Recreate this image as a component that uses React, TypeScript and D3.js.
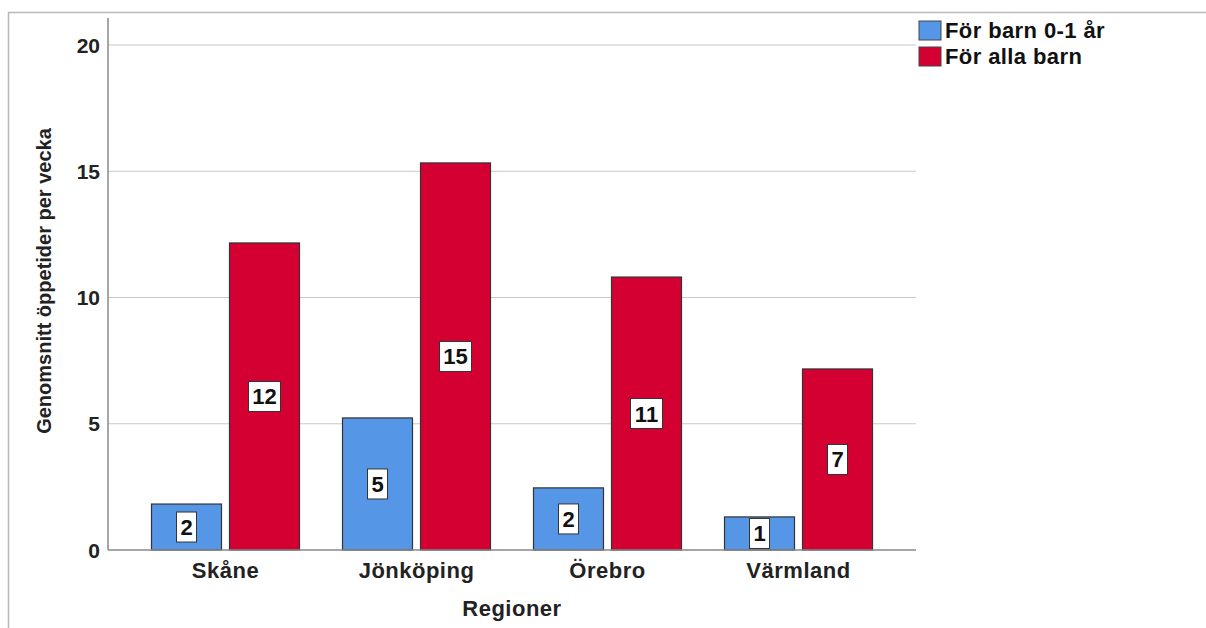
import React from 'react';
import * as d3 from 'd3';

const categories = ['Skåne', 'Jönköping', 'Örebro', 'Värmland'];
const seriesNames = ['För barn 0-1 år', 'För alla barn'];
const infantValues = [1.82, 5.23, 2.46, 1.31];
const allValues = [12.16, 15.33, 10.81, 7.17];
const yTicks = [0, 5, 10, 15, 20];

const colors = ['#5596e6', '#d50032'];
const font = '"Liberation Sans", Arial, sans-serif';

const App = () => {
  const width = 1206;
  const height = 628;
  const axisX = 108;
  const axisRight = 916;

  const y = d3.scaleLinear().domain([0, 20]).range([550, 45]);
  const x = d3.scaleBand().domain(categories).range([130, 894]).padding(0);
  const inner = d3.scaleBand().domain(seriesNames).range([0, 148]).paddingInner(8 / 78);

  const series = [infantValues, allValues];

  return (
    <svg width={width} height={height} style={{ position: 'absolute', left: 0, top: 0, fontFamily: font }}>
      <rect x={0} y={0} width={width} height={height} fill="#fff" />
      <rect x={8.5} y={12.5} width={1400} height={800} fill="none" stroke="#b8b8b8" strokeWidth={1.5} />

      {/* gridlines */}
      {yTicks.slice(1).map((t) => (
        <line key={t} x1={axisX} x2={axisRight} y1={y(t)} y2={y(t)} stroke="#c8c8c8" strokeWidth={1.2} />
      ))}

      {/* tick labels */}
      {yTicks.map((t) => (
        <text key={t} x={100} y={y(t) + 7.5} textAnchor="end" fontSize={21} fontWeight="bold" fill="#222">
          {t}
        </text>
      ))}

      {/* bars */}
      {categories.map((c, i) => {
        const gx = x(c)! + x.bandwidth() / 2 - 74;
        return series.map((vals, s) => {
          const bx = gx + inner(seriesNames[s])!;
          const bw = inner.bandwidth();
          const top = y(vals[i]);
          const bottom = y(0);
          return (
            <rect
              key={c + s}
              x={bx}
              y={top}
              width={bw}
              height={bottom - top}
              fill={colors[s]}
              stroke="#333"
              strokeWidth={1.2}
            />
          );
        });
      })}

      {/* value labels */}
      {categories.map((c, i) => {
        const gx = x(c)! + x.bandwidth() / 2 - 74;
        return series.map((vals, s) => {
          const cx = gx + inner(seriesNames[s])! + inner.bandwidth() / 2;
          const label = String(Math.round(vals[i]));
          const boxW = label.length === 1 ? 20 : 32;
          const boxH = 30;
          let cy = (y(vals[i]) + y(0)) / 2;
          if (cy + boxH / 2 > y(0) + 2) cy = y(0) + 2 - boxH / 2;
          return (
            <g key={'l' + c + s}>
              <rect x={cx - boxW / 2} y={cy - boxH / 2} width={boxW} height={boxH} fill="#fff" stroke="#333" strokeWidth={1} />
              <text x={cx} y={cy + 8} textAnchor="middle" fontSize={22} fontWeight="bold" fill="#111">
                {label}
              </text>
            </g>
          );
        });
      })}

      {/* axes */}
      <line x1={axisX} x2={axisX} y1={18} y2={550} stroke="#888" strokeWidth={1.5} />
      <line x1={axisX} x2={axisRight} y1={550} y2={550} stroke="#888" strokeWidth={1.5} />

      {/* category labels */}
      {categories.map((c) => (
        <text key={c} x={x(c)! + x.bandwidth() / 2} y={578} textAnchor="middle" fontSize={22} letterSpacing={0.5} fontWeight="bold" fill="#222">
          {c}
        </text>
      ))}

      <text x={512} y={616} textAnchor="middle" fontSize={22} letterSpacing={0.5} fontWeight="bold" fill="#222">
        Regioner
      </text>
      <text
        transform="translate(51,281) rotate(-90)"
        textAnchor="middle"
        fontSize={20}
        fontWeight="bold"
        fill="#222"
      >
        Genomsnitt öppetider per vecka
      </text>

      {/* legend */}
      {seriesNames.map((name, s) => (
        <g key={name} transform={`translate(919,${21 + s * 26})`}>
          <rect x={0} y={0} width={22} height={19} fill={colors[s]} stroke="#444" strokeWidth={1} />
          <text x={26} y={17} fontSize={22} letterSpacing={0.4} fontWeight="bold" fill="#111">
            {name}
          </text>
        </g>
      ))}
    </svg>
  );
};

export default App;
